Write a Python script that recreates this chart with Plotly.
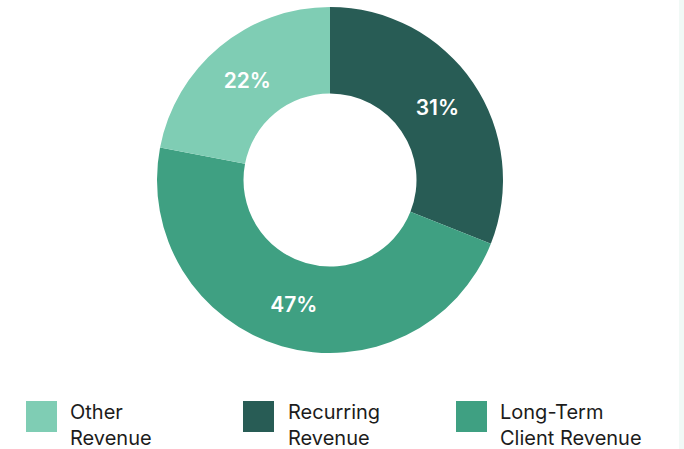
import plotly.graph_objects as go

# Revenue split, in the order the slices run clockwise from 12 o'clock
labels = ["Recurring Revenue", "Long-Term Client Revenue", "Other Revenue"]
values = [31, 47, 22]
colors = ["#285c55", "#3fa082", "#7fcdb4"]

# Legend rows (left to right) and their two-line captions
legend_order = ["Other Revenue", "Recurring Revenue", "Long-Term Client Revenue"]
legend_text = ["Other<br>Revenue", "Recurring<br>Revenue", "Long-Term<br>Client Revenue"]

W, H = 684, 449
FONT = "Inter, Poppins, 'Open Sans', sans-serif"

fig = go.Figure()
fig.add_trace(go.Pie(
    labels=labels,
    values=values,
    hole=0.5,
    sort=False,
    direction="clockwise",
    rotation=0,
    marker=dict(colors=colors, line=dict(width=0)),
    texttemplate="%{percent:.0%}",
    textposition="inside",
    insidetextorientation="horizontal",
    textfont=dict(family=FONT, size=21, color="white", weight=600),
    domain=dict(x=[157 / W, 503 / W], y=[1 - 353 / H, 1 - 7 / H]),
    showlegend=False,
    hoverinfo="label+percent",
))

# Hand-drawn legend: square swatch plus wrapped caption
swatch_x = [26, 243, 456]
text_x = [68, 286, 498]
shapes = []
annotations = []
for i, name in enumerate(legend_order):
    c = colors[labels.index(name)]
    shapes.append(dict(
        type="rect", xref="paper", yref="paper",
        x0=swatch_x[i] / W, x1=(swatch_x[i] + 31) / W,
        y0=1 - 432 / H, y1=1 - 401 / H,
        fillcolor=c, line=dict(width=0), layer="above",
    ))
    annotations.append(dict(
        xref="paper", yref="paper",
        x=text_x[i] / W, y=1 - 398 / H,
        xanchor="left", yanchor="top", align="left",
        text=legend_text[i], showarrow=False,
        font=dict(family=FONT, size=20, color="#1c1c1c"),
    ))

# Pale strip along the right edge
shapes.append(dict(
    type="rect", xref="paper", yref="paper",
    x0=679 / W, x1=1, y0=0, y1=1,
    fillcolor="#f1f9f6", line=dict(width=0), layer="below",
))

fig.update_layout(
    width=W, height=H,
    margin=dict(l=0, r=0, t=0, b=0),
    paper_bgcolor="white",
    plot_bgcolor="white",
    shapes=shapes,
    annotations=annotations,
)

fig.write_html("out.html")
